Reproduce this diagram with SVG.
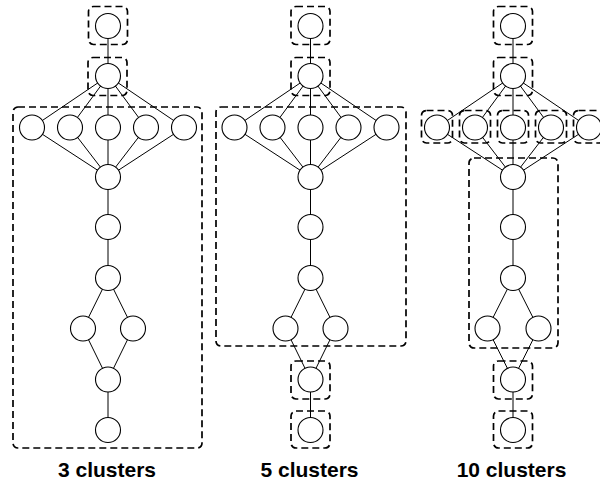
<svg xmlns="http://www.w3.org/2000/svg" width="600" height="485" viewBox="0 0 600 485">
  <defs>
    <style>
      .bg { fill: #ffffff; }
      .edge { stroke: #000000; stroke-width: 1; fill: none; }
      .node { fill: #ffffff; stroke: #000000; stroke-width: 1.1; }
      .cluster { fill: none; stroke: #000000; stroke-width: 1.7; stroke-dasharray: 7 4; }
      .label { font-family: "Liberation Sans", Arial, Helvetica, sans-serif; font-size: 21px; font-weight: bold; fill: #000000; text-anchor: middle; }
    </style>
  </defs>
  <rect class="bg" x="0" y="0" width="600" height="485"/>

  <!-- ===== Panel A: 3 clusters ===== -->
  <g id="panel-a">
    <g id="a-edges">
      <line class="edge" x1="108" y1="26" x2="108" y2="76"/>
      <line class="edge" x1="108" y1="76" x2="32" y2="127.5"/>
      <line class="edge" x1="108" y1="76" x2="70" y2="127.5"/>
      <line class="edge" x1="108" y1="76" x2="108" y2="127.5"/>
      <line class="edge" x1="108" y1="76" x2="146" y2="127.5"/>
      <line class="edge" x1="108" y1="76" x2="184" y2="127.5"/>
      <line class="edge" x1="32" y1="127.5" x2="108" y2="177"/>
      <line class="edge" x1="70" y1="127.5" x2="108" y2="177"/>
      <line class="edge" x1="108" y1="127.5" x2="108" y2="177"/>
      <line class="edge" x1="146" y1="127.5" x2="108" y2="177"/>
      <line class="edge" x1="184" y1="127.5" x2="108" y2="177"/>
      <line class="edge" x1="108" y1="177" x2="108" y2="278"/>
      <line class="edge" x1="108" y1="278" x2="83" y2="328.5"/>
      <line class="edge" x1="108" y1="278" x2="133" y2="328.5"/>
      <line class="edge" x1="83" y1="328.5" x2="108" y2="379.5"/>
      <line class="edge" x1="133" y1="328.5" x2="108" y2="379.5"/>
      <line class="edge" x1="108" y1="379.5" x2="108" y2="430"/>
    </g>
    <g id="a-clusters">
      <rect class="cluster" x="88.5" y="6.5" width="39" height="38" rx="5"/>
      <rect class="cluster" x="88" y="57.5" width="39" height="38" rx="5"/>
      <rect class="cluster" x="13" y="107" width="189" height="341" rx="5"/>
    </g>
    <g id="a-nodes">
      <circle id="a-n0" class="node" cx="108" cy="26" r="12.5"/>
      <circle id="a-n1" class="node" cx="108" cy="76" r="12.5"/>
      <circle id="a-n2" class="node" cx="32" cy="127.5" r="12.5"/>
      <circle id="a-n3" class="node" cx="70" cy="127.5" r="12.5"/>
      <circle id="a-n4" class="node" cx="108" cy="127.5" r="12.5"/>
      <circle id="a-n5" class="node" cx="146" cy="127.5" r="12.5"/>
      <circle id="a-n6" class="node" cx="184" cy="127.5" r="12.5"/>
      <circle id="a-n7" class="node" cx="108" cy="177" r="12.5"/>
      <circle id="a-n8" class="node" cx="108" cy="227" r="12.5"/>
      <circle id="a-n9" class="node" cx="108" cy="278" r="12.5"/>
      <circle id="a-n10" class="node" cx="83" cy="328.5" r="12.5"/>
      <circle id="a-n11" class="node" cx="133" cy="328.5" r="12.5"/>
      <circle id="a-n12" class="node" cx="108" cy="379.5" r="12.5"/>
      <circle id="a-n13" class="node" cx="108" cy="430" r="12.5"/>
    </g>
    <text class="label" x="107" y="477">3 clusters</text>
  </g>

  <!-- ===== Panel B: 5 clusters ===== -->
  <g id="panel-b">
    <g id="b-edges">
      <line class="edge" x1="310.5" y1="26" x2="310.5" y2="76"/>
      <line class="edge" x1="310.5" y1="76" x2="234.5" y2="127.5"/>
      <line class="edge" x1="310.5" y1="76" x2="272.5" y2="127.5"/>
      <line class="edge" x1="310.5" y1="76" x2="310.5" y2="127.5"/>
      <line class="edge" x1="310.5" y1="76" x2="348.5" y2="127.5"/>
      <line class="edge" x1="310.5" y1="76" x2="386.5" y2="127.5"/>
      <line class="edge" x1="234.5" y1="127.5" x2="310.5" y2="177"/>
      <line class="edge" x1="272.5" y1="127.5" x2="310.5" y2="177"/>
      <line class="edge" x1="310.5" y1="127.5" x2="310.5" y2="177"/>
      <line class="edge" x1="348.5" y1="127.5" x2="310.5" y2="177"/>
      <line class="edge" x1="386.5" y1="127.5" x2="310.5" y2="177"/>
      <line class="edge" x1="310.5" y1="177" x2="310.5" y2="278"/>
      <line class="edge" x1="310.5" y1="278" x2="285.5" y2="328.5"/>
      <line class="edge" x1="310.5" y1="278" x2="335.5" y2="328.5"/>
      <line class="edge" x1="285.5" y1="328.5" x2="310.5" y2="379.5"/>
      <line class="edge" x1="335.5" y1="328.5" x2="310.5" y2="379.5"/>
      <line class="edge" x1="310.5" y1="379.5" x2="310.5" y2="430"/>
    </g>
    <g id="b-clusters">
      <rect class="cluster" x="291" y="6.5" width="39" height="38" rx="5"/>
      <rect class="cluster" x="291" y="57.5" width="39" height="38" rx="5"/>
      <rect class="cluster" x="216" y="107" width="190" height="239" rx="5"/>
      <rect class="cluster" x="291" y="361" width="39" height="38" rx="5"/>
      <rect class="cluster" x="291" y="411" width="39" height="37" rx="5"/>
    </g>
    <g id="b-nodes">
      <circle id="b-n0" class="node" cx="310.5" cy="26" r="12.5"/>
      <circle id="b-n1" class="node" cx="310.5" cy="76" r="12.5"/>
      <circle id="b-n2" class="node" cx="234.5" cy="127.5" r="12.5"/>
      <circle id="b-n3" class="node" cx="272.5" cy="127.5" r="12.5"/>
      <circle id="b-n4" class="node" cx="310.5" cy="127.5" r="12.5"/>
      <circle id="b-n5" class="node" cx="348.5" cy="127.5" r="12.5"/>
      <circle id="b-n6" class="node" cx="386.5" cy="127.5" r="12.5"/>
      <circle id="b-n7" class="node" cx="310.5" cy="177" r="12.5"/>
      <circle id="b-n8" class="node" cx="310.5" cy="227" r="12.5"/>
      <circle id="b-n9" class="node" cx="310.5" cy="278" r="12.5"/>
      <circle id="b-n10" class="node" cx="285.5" cy="328.5" r="12.5"/>
      <circle id="b-n11" class="node" cx="335.5" cy="328.5" r="12.5"/>
      <circle id="b-n12" class="node" cx="310.5" cy="379.5" r="12.5"/>
      <circle id="b-n13" class="node" cx="310.5" cy="430" r="12.5"/>
    </g>
    <text class="label" x="309.5" y="477">5 clusters</text>
  </g>

  <!-- ===== Panel C: 10 clusters ===== -->
  <g id="panel-c">
    <g id="c-edges">
      <line class="edge" x1="513" y1="26" x2="513" y2="76"/>
      <line class="edge" x1="513" y1="76" x2="437" y2="127.5"/>
      <line class="edge" x1="513" y1="76" x2="475" y2="127.5"/>
      <line class="edge" x1="513" y1="76" x2="513" y2="127.5"/>
      <line class="edge" x1="513" y1="76" x2="551" y2="127.5"/>
      <line class="edge" x1="513" y1="76" x2="589" y2="127.5"/>
      <line class="edge" x1="437" y1="127.5" x2="513" y2="177"/>
      <line class="edge" x1="475" y1="127.5" x2="513" y2="177"/>
      <line class="edge" x1="513" y1="127.5" x2="513" y2="177"/>
      <line class="edge" x1="551" y1="127.5" x2="513" y2="177"/>
      <line class="edge" x1="589" y1="127.5" x2="513" y2="177"/>
      <line class="edge" x1="513" y1="177" x2="513" y2="278"/>
      <line class="edge" x1="513" y1="278" x2="487.5" y2="328.5"/>
      <line class="edge" x1="513" y1="278" x2="538.5" y2="328.5"/>
      <line class="edge" x1="487.5" y1="328.5" x2="513" y2="379.5"/>
      <line class="edge" x1="538.5" y1="328.5" x2="513" y2="379.5"/>
      <line class="edge" x1="513" y1="379.5" x2="513" y2="430"/>
    </g>
    <g id="c-clusters">
      <rect class="cluster" x="493.5" y="6.5" width="39" height="38" rx="5"/>
      <rect class="cluster" x="493.5" y="57.5" width="39" height="38" rx="5"/>
      <rect class="cluster" x="421.5" y="110.5" width="31" height="32.5" rx="5"/>
      <rect class="cluster" x="459.5" y="110.5" width="31" height="32.5" rx="5"/>
      <rect class="cluster" x="497.5" y="110.5" width="31" height="32.5" rx="5"/>
      <rect class="cluster" x="535.5" y="110.5" width="31" height="32.5" rx="5"/>
      <rect class="cluster" x="573.5" y="110.5" width="31" height="32.5" rx="5"/>
      <rect class="cluster" x="469" y="158" width="89" height="190" rx="5"/>
      <rect class="cluster" x="493.5" y="361" width="39" height="38" rx="5"/>
      <rect class="cluster" x="493.5" y="411" width="39" height="37" rx="5"/>
    </g>
    <g id="c-nodes">
      <circle id="c-n0" class="node" cx="513" cy="26" r="12.5"/>
      <circle id="c-n1" class="node" cx="513" cy="76" r="12.5"/>
      <circle id="c-n2" class="node" cx="437" cy="127.5" r="12.5"/>
      <circle id="c-n3" class="node" cx="475" cy="127.5" r="12.5"/>
      <circle id="c-n4" class="node" cx="513" cy="127.5" r="12.5"/>
      <circle id="c-n5" class="node" cx="551" cy="127.5" r="12.5"/>
      <circle id="c-n6" class="node" cx="589" cy="127.5" r="12.5"/>
      <circle id="c-n7" class="node" cx="513" cy="177" r="12.5"/>
      <circle id="c-n8" class="node" cx="513" cy="227" r="12.5"/>
      <circle id="c-n9" class="node" cx="513" cy="278" r="12.5"/>
      <circle id="c-n10" class="node" cx="487.5" cy="328.5" r="12.5"/>
      <circle id="c-n11" class="node" cx="538.5" cy="328.5" r="12.5"/>
      <circle id="c-n12" class="node" cx="513" cy="379.5" r="12.5"/>
      <circle id="c-n13" class="node" cx="513" cy="430" r="12.5"/>
    </g>
    <text class="label" x="511.5" y="477">10 clusters</text>
  </g>
</svg>
